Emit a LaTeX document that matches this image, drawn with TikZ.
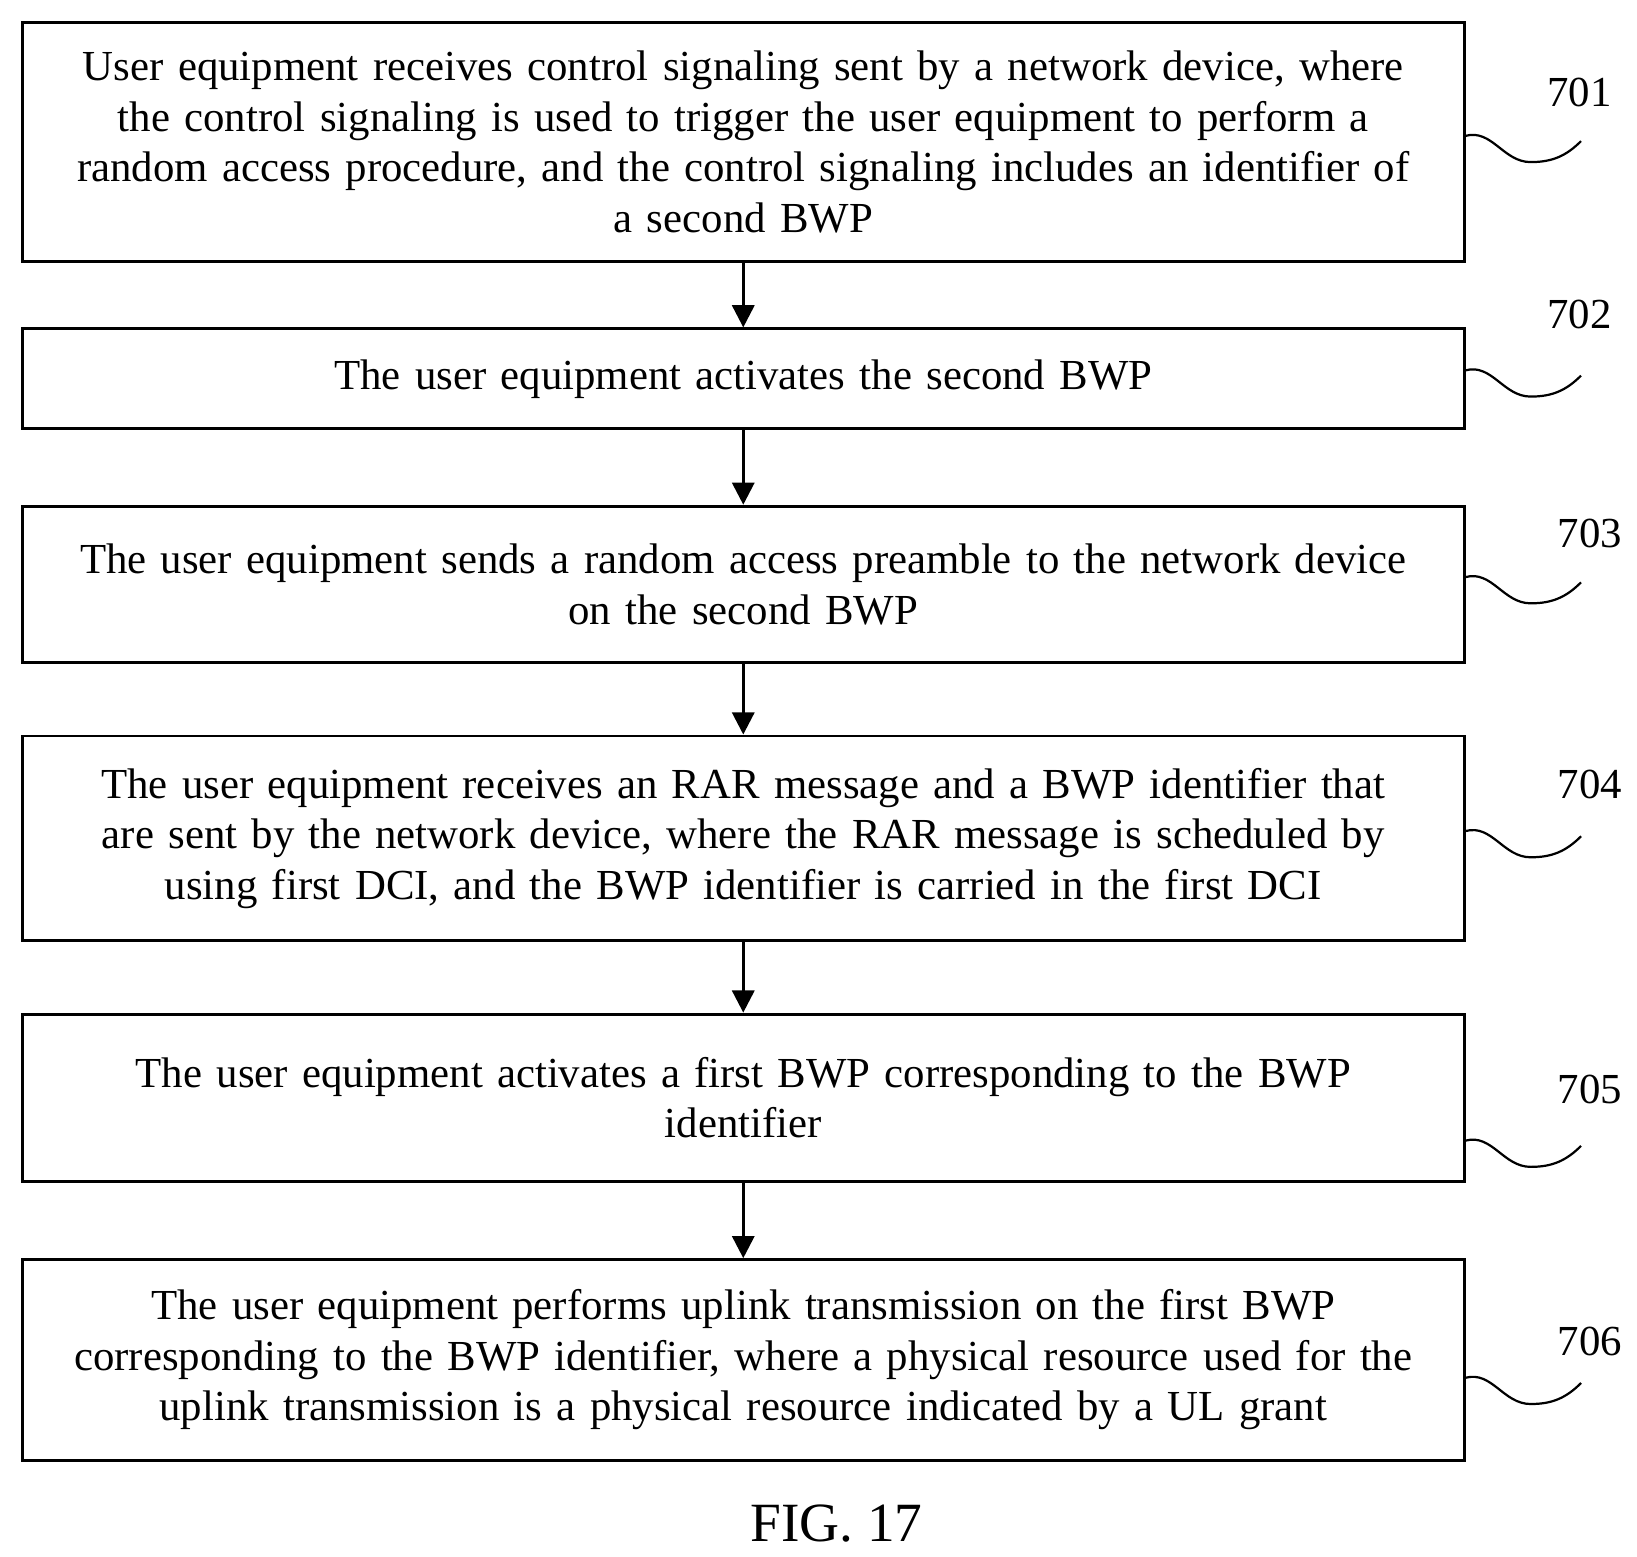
\documentclass[tikz,border=0pt]{standalone}
\usepackage{fontspec}
\setmainfont{Liberation Serif}
\usetikzlibrary{arrows.meta}
\tikzset{Step/.style={
    draw=black,
    line width=0.8pt,
    inner sep=0pt,
    text width=13.6cm,
    align=center,
    anchor=north west,
    font={\fontsize{11.6pt}{13.7pt}\selectfont}
    },
    Tag/.style={font={\fontsize{11.6pt}{13pt}\selectfont}},
    Flow/.style={-{Triangle[length=6pt,width=6pt]}, line width=0.8pt}
}
\newcommand{\Wave}[2]{\draw[line width=0.6pt] ([yshift=#2]#1.east) to[out=15,in=180] ++(0.62cm,-0.25cm) to[out=0,in=225] ++(0.48cm,0.2cm);}
\begin{document}
\begin{tikzpicture}[x=0.01cm,y=-0.01cm]
\useasboundingbox (0,0) rectangle (1560,1483);
\node [Step, minimum height=2.28cm, minimum width=13.73cm] (s1) at (20,20) {User equipment receives control signaling sent by a network device, where\\ the control signaling is used to trigger the user equipment to perform a\\ random access procedure, and the control signaling includes an identifier of\\ a second BWP};
\node [Step, minimum height=0.95cm, minimum width=13.73cm] (s2) at (20,312) {The user equipment activates the second BWP};
\node [Step, minimum height=1.49cm, minimum width=13.73cm] (s3) at (20,481) {The user equipment sends a random access preamble to the network device\\ on the second BWP};
\node [Step, minimum height=1.95cm, minimum width=13.73cm] (s4) at (20,700) {The user equipment receives an RAR message and a BWP identifier that\\ are sent by the network device, where the RAR message is scheduled by\\ using first DCI, and the BWP identifier is carried in the first DCI};
\node [Step, minimum height=1.59cm, minimum width=13.73cm] (s5) at (20,965) {The user equipment activates a first BWP corresponding to the BWP\\ identifier};
\node [Step, minimum height=1.91cm, minimum width=13.73cm] (s6) at (20,1199) {The user equipment performs uplink transmission on the first BWP\\ corresponding to the BWP identifier, where a physical resource used for the\\ uplink transmission is a physical resource indicated by a UL grant};
% step numbers
\node [Tag] (t1) at (1505,88) {701};
\node [Tag] (t2) at (1505,300) {702};
\node [Tag] (t3) at (1515,508) {703};
\node [Tag] (t4) at (1515,748) {704};
\node [Tag] (t5) at (1515,1038) {705};
\node [Tag] (t6) at (1515,1278) {706};
\Wave{s1}{0.06cm}
\Wave{s2}{0.08cm}
\Wave{s3}{0.07cm}
\Wave{s4}{0.07cm}
\Wave{s5}{-0.41cm}
\Wave{s6}{-0.17cm}
% arrows
\draw [Flow] (s1) -- (s2);
\draw [Flow] (s2) -- (s3);
\draw [Flow] (s3) -- (s4);
\draw [Flow] (s4) -- (s5);
\draw [Flow] (s5) -- (s6);
\node [font={\fontsize{15pt}{16pt}\selectfont}] (fig) at (797,1452) {FIG. 17};
\end{tikzpicture}
\end{document}
